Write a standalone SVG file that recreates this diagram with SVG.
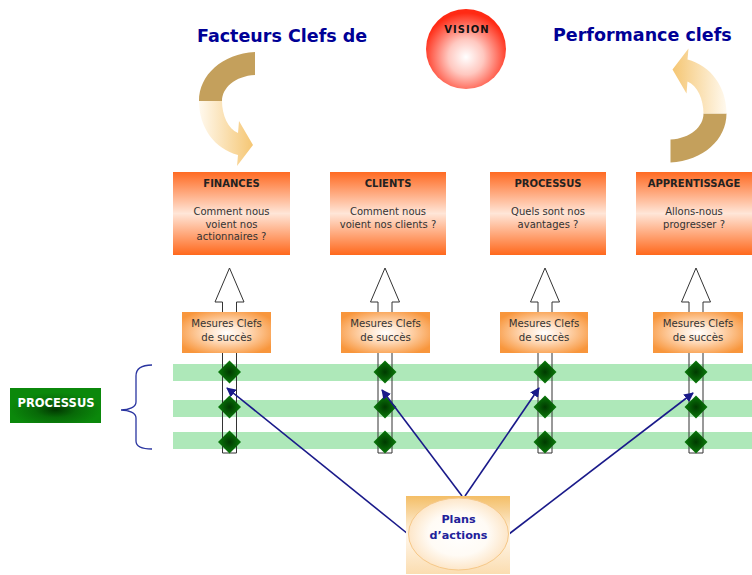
<svg xmlns="http://www.w3.org/2000/svg" width="752" height="575" viewBox="0 0 752 575">
<defs>
<style>
.title{font-family:"DejaVu Sans",Verdana,sans-serif;font-weight:bold;font-size:17.5px;fill:#000096}
.bt{font-family:"DejaVu Sans",Verdana,sans-serif;font-weight:bold;font-size:10px;fill:#222;text-anchor:middle}
.bx{font-family:"DejaVu Sans",Verdana,sans-serif;font-size:10px;fill:#333;text-anchor:middle}
.ms{font-family:"DejaVu Sans",Verdana,sans-serif;font-size:10.2px;fill:#333;text-anchor:middle}
.band{fill:#AEE8B9}
.shaft{fill:none;stroke:#333;stroke-width:1}
.conn{stroke:#1A1A8A;stroke-width:1.6;fill:none;marker-end:url(#ah)}
</style>
<linearGradient id="boxg" x1="0" y1="0" x2="0" y2="1">
<stop offset="0" stop-color="#FF6A22"/>
<stop offset="0.5" stop-color="#FFE6D8"/>
<stop offset="1" stop-color="#FF681C"/>
</linearGradient>
<radialGradient id="msg" cx="0.5" cy="0.5" r="0.6">
<stop offset="0" stop-color="#FFFFFF"/>
<stop offset="0.35" stop-color="#FFE0C4"/>
<stop offset="1" stop-color="#F8963C"/>
</radialGradient>
<radialGradient id="visg" cx="0.5" cy="0.6" r="0.55">
<stop offset="0" stop-color="#FFFFFF"/>
<stop offset="0.4" stop-color="#FFC8C0"/>
<stop offset="1" stop-color="#FF2A14"/>
</radialGradient>
<radialGradient id="dmg" cx="0.5" cy="0.5" r="0.5">
<stop offset="0" stop-color="#003A00"/>
<stop offset="1" stop-color="#0A7A0A"/>
</radialGradient>
<radialGradient id="prg" cx="0.5" cy="0.62" r="0.5">
<stop offset="0" stop-color="#013801"/>
<stop offset="0.45" stop-color="#086A08"/>
<stop offset="1" stop-color="#0B880B"/>
</radialGradient>
<linearGradient id="curvg" x1="0" y1="0" x2="1" y2="0">
<stop offset="0" stop-color="#FFF9EE"/>
<stop offset="1" stop-color="#F5C673"/>
</linearGradient>
<linearGradient id="plg" x1="0" y1="0" x2="0" y2="1">
<stop offset="0" stop-color="#F4BE66"/>
<stop offset="0.5" stop-color="#FFF6EA"/>
<stop offset="1" stop-color="#FBDDB0"/>
</linearGradient>
<radialGradient id="ple" cx="0.5" cy="0.5" r="0.5">
<stop offset="0" stop-color="#FFFFFF"/>
<stop offset="0.6" stop-color="#FFFBF5"/>
<stop offset="1" stop-color="#FDE6C8"/>
</radialGradient>
<path id="harrow" d="M0,268 L14.5,302 L7,302 L7,453 L-7,453 L-7,302 L-14.5,302 Z"/>
<path id="dia" d="M0,-11.5 L11.5,0 L0,11.5 L-11.5,0 Z" fill="url(#dmg)"/>
<g id="curv">
<path d="M255,52 C222,54 199,75 199,101 L222,101 C222,88 235,76 255,75 Z" fill="#C4A05C"/>
<path d="M199,101 C199,128 215,149 238,155 L237,166 L253,145 L239,121 L238,133 C228,129 222,115 222,101 Z" fill="url(#curvg)"/>
</g>
<marker id="ah" viewBox="0 0 10 10" refX="9" refY="5" markerWidth="6" markerHeight="6" markerUnits="strokeWidth" orient="auto">
<path d="M0,0 L10,5 L0,10 Z" fill="#1A1A8A"/>
</marker>
</defs>

<g id="titles">
<text class="title" x="197" y="42">Facteurs Clefs de</text>
<text class="title" x="553" y="41">Performance clefs</text>
</g>

<g id="vision">
<circle cx="466" cy="49" r="40" fill="url(#visg)"/>
<text x="467" y="33" font-family="DejaVu Sans,Verdana,sans-serif" font-weight="bold" font-size="10" letter-spacing="1" fill="#111" text-anchor="middle">VISION</text>
</g>

<g id="curve-left"><use href="#curv"/></g>
<g id="curve-right"><use href="#curv" transform="rotate(180 462.75 107.25)"/></g>

<g id="finances">
<rect x="173" y="172" width="117" height="83" fill="url(#boxg)"/>
<text class="bt" x="231.5" y="187">FINANCES</text>
<text class="bx" x="231.5" y="215">Comment nous</text>
<text class="bx" x="231.5" y="227.5">voient nos</text>
<text class="bx" x="231.5" y="240">actionnaires ?</text>
</g>
<g id="clients">
<rect x="330" y="172" width="116" height="83" fill="url(#boxg)"/>
<text class="bt" x="388" y="187">CLIENTS</text>
<text class="bx" x="388" y="215">Comment nous</text>
<text class="bx" x="388" y="228">voient nos clients ?</text>
</g>
<g id="processus-top">
<rect x="490" y="172" width="116" height="83" fill="url(#boxg)"/>
<text class="bt" x="548" y="187">PROCESSUS</text>
<text class="bx" x="548" y="215">Quels sont nos</text>
<text class="bx" x="548" y="228">avantages ?</text>
</g>
<g id="apprentissage">
<rect x="636" y="172" width="116" height="83" fill="url(#boxg)"/>
<text class="bt" x="694" y="187">APPRENTISSAGE</text>
<text class="bx" x="694" y="215">Allons-nous</text>
<text class="bx" x="694" y="228">progresser ?</text>
</g>

<g id="arrow-fills" fill="#fff">
<use href="#harrow" x="229.5"/>
<use href="#harrow" x="385"/>
<use href="#harrow" x="545"/>
<use href="#harrow" x="696"/>
</g>

<g id="bands">
<rect class="band" x="173" y="364" width="579" height="17"/>
<rect class="band" x="173" y="400" width="579" height="17"/>
<rect class="band" x="173" y="432" width="579" height="17"/>
</g>

<g id="arrow-outlines" class="shaft">
<use href="#harrow" x="229.5"/>
<use href="#harrow" x="385"/>
<use href="#harrow" x="545"/>
<use href="#harrow" x="696"/>
</g>

<g id="mesures1">
<rect x="182" y="312" width="89" height="41" fill="url(#msg)"/>
<text class="ms" x="226.5" y="327">Mesures Clefs</text>
<text class="ms" x="226.5" y="340.5">de succès</text>
</g>
<g id="mesures2">
<rect x="341" y="312" width="89" height="41" fill="url(#msg)"/>
<text class="ms" x="385.5" y="327">Mesures Clefs</text>
<text class="ms" x="385.5" y="340.5">de succès</text>
</g>
<g id="mesures3">
<rect x="500" y="312" width="88" height="41" fill="url(#msg)"/>
<text class="ms" x="544" y="327">Mesures Clefs</text>
<text class="ms" x="544" y="340.5">de succès</text>
</g>
<g id="mesures4">
<rect x="653" y="312" width="90" height="41" fill="url(#msg)"/>
<text class="ms" x="698" y="327">Mesures Clefs</text>
<text class="ms" x="698" y="340.5">de succès</text>
</g>

<g id="diamonds">
<use href="#dia" x="229.5" y="372"/><use href="#dia" x="229.5" y="407"/><use href="#dia" x="229.5" y="442"/>
<use href="#dia" x="385" y="372"/><use href="#dia" x="385" y="407"/><use href="#dia" x="385" y="442"/>
<use href="#dia" x="545" y="372"/><use href="#dia" x="545" y="407"/><use href="#dia" x="545" y="442"/>
<use href="#dia" x="696" y="372"/><use href="#dia" x="696" y="407"/><use href="#dia" x="696" y="442"/>
</g>

<g id="processus-label">
<rect x="10" y="388" width="91" height="35" fill="url(#prg)"/>
<text x="56" y="406.5" font-family="DejaVu Sans,Verdana,sans-serif" font-weight="bold" font-size="11.5" fill="#fff" text-anchor="middle">PROCESSUS</text>
</g>

<g id="brace">
<path d="M152,365 C142,365 136,368 136,376 L136,402 C136,407 129,410 121,410 C129,410 136,413 136,418 L136,441 C136,447 142,449 152,449" fill="none" stroke="#2A35A0" stroke-width="1.3"/>
</g>

<g id="connectors">
<line class="conn" x1="408" y1="534" x2="227" y2="388"/>
<line class="conn" x1="462" y1="496" x2="382" y2="390"/>
<line class="conn" x1="465" y1="496" x2="539" y2="388"/>
<line class="conn" x1="509" y1="534" x2="693" y2="393"/>
</g>

<g id="plans">
<rect x="406" y="496" width="104" height="78" fill="url(#plg)"/>
<ellipse cx="458.5" cy="534" rx="50" ry="36" fill="url(#ple)" stroke="#F6C888" stroke-width="1"/>
<text x="458.5" y="523" font-family="DejaVu Sans,Verdana,sans-serif" font-weight="bold" font-size="11.2" fill="#22229A" text-anchor="middle">Plans</text>
<text x="458.5" y="538.5" font-family="DejaVu Sans,Verdana,sans-serif" font-weight="bold" font-size="11.2" fill="#22229A" text-anchor="middle">d’actions</text>
</g>
</svg>
